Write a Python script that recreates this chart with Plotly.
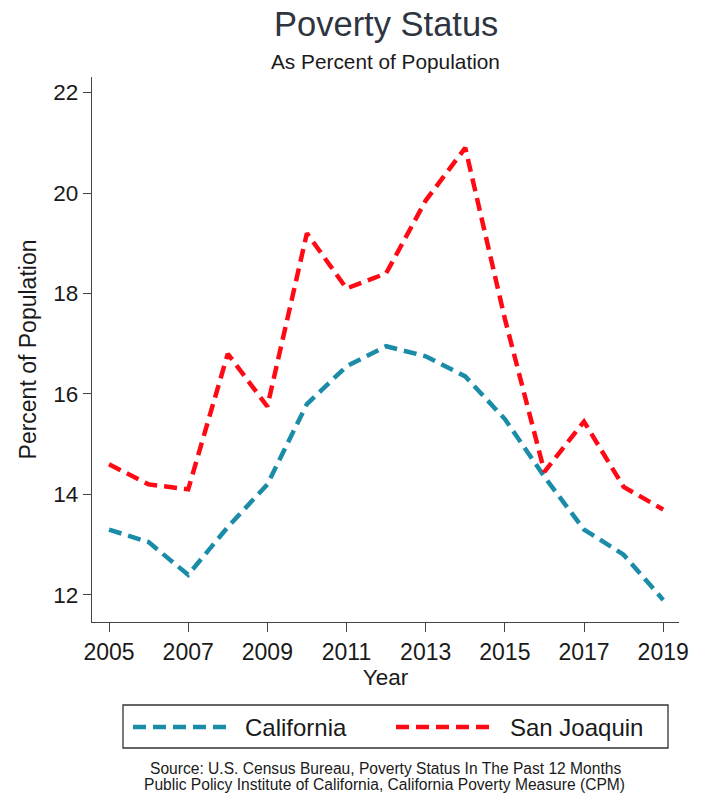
import plotly.graph_objects as go

years = list(range(2005, 2020))
california = [13.3, 13.05, 12.4, 13.35, 14.2, 15.8, 16.55, 16.95, 16.75, 16.35, 15.5, 14.35, 13.3, 12.8, 11.9]
san_joaquin = [14.6, 14.2, 14.1, 16.8, 15.75, 19.2, 18.1, 18.4, 19.85, 20.9, 17.5, 14.45, 15.45, 14.15, 13.7]
x_ticks = list(range(2005, 2020, 2))
y_ticks = list(range(12, 23, 2))

TEAL = "#1A8CA8"
RED = "#FF0A14"
FONT = "Liberation Sans, Arial, sans-serif"
TXT = "#1a1a1a"
AX = "#444444"
DASH = "13px,7px"

# body margin is removed in the page (post_script), so page pixels == figure pixels
W, H = 707, 796
L, R, T, B = 92, 28, 77, 174
pw, ph = W - L - R, H - T - B


def px2paper(x, y):
    """page pixel -> paper coords"""
    return (x - L) / pw, (H - B - y) / ph


fig = go.Figure()
fig.add_trace(go.Scatter(x=years, y=california, mode="lines", name="California",
                         line=dict(color=TEAL, width=4.5, dash=DASH), showlegend=False))
fig.add_trace(go.Scatter(x=years, y=san_joaquin, mode="lines", name="San Joaquin",
                         line=dict(color=RED, width=4.5, dash=DASH), showlegend=False))

fig.update_layout(
    width=W, height=H, autosize=False,
    paper_bgcolor="white", plot_bgcolor="white",
    margin=dict(l=L, r=R, t=T, b=B, pad=0),
    font=dict(family=FONT, color=TXT, size=22),
    xaxis=dict(range=[2004.57, 2019.40], tickvals=x_ticks, ticks="outside", ticklen=9,
               tickcolor=AX, showline=True, linecolor=AX, linewidth=1.2,
               showgrid=False, zeroline=False, tickfont=dict(size=23, color=TXT),
               title=dict(text="Year", font=dict(size=22.5, color=TXT), standoff=0)),
    yaxis=dict(range=[11.46, 22.31], tickvals=y_ticks, ticks="outside", ticklen=8,
               tickcolor=AX, showline=True, linecolor=AX, linewidth=1.2,
               showgrid=False, zeroline=False, tickfont=dict(size=22.5, color=TXT),
               title=dict(text="Percent of Population", font=dict(size=23, color=TXT), standoff=10)),
)

annots = [
    dict(text="Poverty Status", x=386, y=24, size=34.5, color="#2e3540"),
    dict(text="As Percent of Population", x=385, y=62, size=20.8, color=TXT),
    dict(text="Source: U.S. Census Bureau, Poverty Status In The Past 12 Months", x=386, y=768, size=15.6, color=TXT),
    dict(text="Public Policy Institute of California, California Poverty Measure (CPM)", x=384, y=784, size=15.6, color=TXT),
]
for a in annots:
    xx, yy = px2paper(a["x"], a["y"])
    fig.add_annotation(text=a["text"], x=xx, y=yy, xref="paper", yref="paper", showarrow=False,
                       xanchor="center", yanchor="middle",
                       font=dict(size=a["size"], color=a["color"], family=FONT))

# Legend box
x0, y0 = px2paper(123, 705)
x1, y1 = px2paper(668, 748)
fig.add_shape(type="rect", xref="paper", yref="paper", x0=x0, y0=y1, x1=x1, y1=y0,
              line=dict(color="#333", width=1.3), fillcolor="white", layer="below")
for (sx0, sx1, tx, label, col) in [(133, 229, 243, "California", TEAL), (396, 491, 508, "San Joaquin", RED)]:
    a0, ly = px2paper(sx0, 727)
    a1, _ = px2paper(sx1, 727)
    fig.add_shape(type="line", xref="paper", yref="paper", x0=a0, x1=a1, y0=ly, y1=ly,
                  line=dict(color=col, width=4.5, dash=DASH))
    t0, _ = px2paper(tx, 727)
    fig.add_annotation(text=label, x=t0, y=ly, xref="paper", yref="paper", showarrow=False,
                       xanchor="left", yanchor="middle", font=dict(size=24, color=TXT, family=FONT))

fig.write_html(
    "out.html",
    config={"displayModeBar": False},
    post_script="document.body.style.margin='0';document.body.style.overflow='hidden';",
)
